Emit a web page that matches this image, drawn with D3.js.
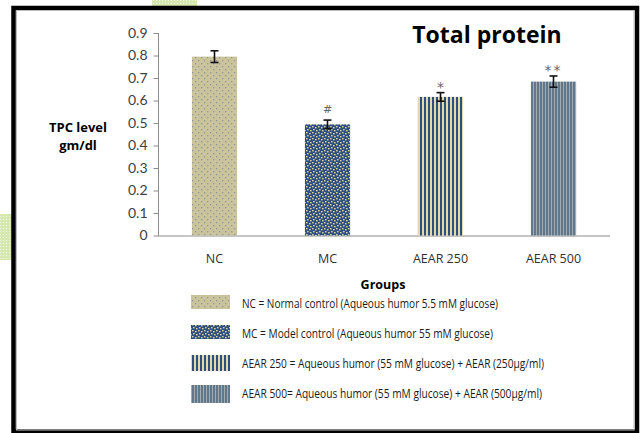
<!DOCTYPE html>
<html>
<head>
<meta charset="utf-8">
<script src="https://cdn.jsdelivr.net/npm/d3@7"></script>
<style>
  html, body { margin: 0; padding: 0; background: #fff; }
  svg { display: block; }
</style>
</head>
<body>
<svg id="chart" width="640" height="433"></svg>
<script>
// Total protein (TPC) by treatment group
const groups = ["NC", "MC", "AEAR 250", "AEAR 500"];
const means = [0.795, 0.494, 0.616, 0.684];
const errors = [0.026, 0.019, 0.019, 0.025];
const marks = ["", "#", "*", "**"];
const yTicks = [0, 0.1, 0.2, 0.3, 0.4, 0.5, 0.6, 0.7, 0.8, 0.9];
const legendLabels = [
  "NC = Normal control (Aqueous humor 5.5 mM glucose)",
  "MC = Model control (Aqueous humor 55 mM glucose)",
  "AEAR 250 = Aqueous humor (55 mM glucose) + AEAR (250µg/ml)",
  "AEAR 500= Aqueous humor (55 mM glucose) + AEAR (500µg/ml)"
];
const legendWidths = [256, 251, 302, 300];

const svg = d3.select("#chart");
const defs = svg.append("defs");

// Fill patterns for each group
function dotPattern(id, bg, dot, size, r, offset) {
  const p = defs.append("pattern").attr("id", id)
    .attr("patternUnits", "userSpaceOnUse").attr("width", size).attr("height", size);
  p.append("rect").attr("width", size).attr("height", size).attr("fill", bg);
  p.append("rect").attr("x", 0).attr("y", 0).attr("width", r).attr("height", r).attr("fill", dot);
  if (offset) p.append("rect").attr("x", size / 2).attr("y", size / 2).attr("width", r).attr("height", r).attr("fill", dot);
}
function stripePattern(id, a, aw, b, bw) {
  const w = aw + bw;
  const p = defs.append("pattern").attr("id", id)
    .attr("patternUnits", "userSpaceOnUse").attr("width", w).attr("height", 4);
  p.append("rect").attr("width", aw).attr("height", 4).attr("fill", a);
  p.append("rect").attr("x", aw).attr("width", bw).attr("height", 4).attr("fill", b);
}
dotPattern("pNC", "#cbc39c", "#8f9a9c", 6, 1.3, true);
// pebble-like fill for MC
(function () {
  const p = defs.append("pattern").attr("id", "pMC")
    .attr("patternUnits", "userSpaceOnUse").attr("width", 6).attr("height", 6);
  p.append("rect").attr("width", 6).attr("height", 6).attr("fill", "#2e4f7e");
  [[0, 0], [3, 1], [1, 3], [4, 4]].forEach(([x, y]) =>
    p.append("rect").attr("x", x).attr("y", y).attr("width", 1.6).attr("height", 1.4).attr("fill", "#d9d2a4"));
})();
stripePattern("p250", "#2d4e80", 2, "#e2daac", 2);
stripePattern("p500", "#61788c", 2, "#a0abb0", 1);
// faint green background texture
dotPattern("pGreen", "#d6e8b0", "#eef5dc", 3, 1, false);
const fills = ["url(#pNC)", "url(#pMC)", "url(#p250)", "url(#p500)"];

// page decoration behind the frame
svg.append("rect").attr("x", 152).attr("y", 0).attr("width", 45).attr("height", 7).attr("fill", "url(#pGreen)");
svg.append("rect").attr("x", 0).attr("y", 214).attr("width", 12).attr("height", 46).attr("fill", "url(#pGreen)");

// frame
svg.append("rect").attr("x", 13.5).attr("y", 8).attr("width", 623.5).attr("height", 423.5)
  .attr("fill", "#fff").attr("stroke", "#000").attr("stroke-width", 4.5);
svg.append("rect").attr("x", 16.5).attr("y", 10.5).attr("width", 617.5).attr("height", 419.5)
  .attr("fill", "none").attr("stroke", "#bbb").attr("stroke-width", 1);

// scales
const x = d3.scaleBand().domain(groups).range([158, 610]).paddingInner(0.6).paddingOuter(0.3);
const y = d3.scaleLinear().domain([0, 0.9]).range([235.5, 33]);

// y axis
const yAxis = svg.append("g").attr("transform", "translate(158.5,0)")
  .call(d3.axisLeft(y).tickValues(yTicks).tickSize(5).tickPadding(6)
    .tickFormat(d => d === 0 ? "0" : d3.format(".1f")(d)));
yAxis.select(".domain").attr("stroke", "#8c8c8c").attr("d", `M0,${y(0.9)}V${y(0)}`);
yAxis.selectAll(".tick line").attr("stroke", "#8c8c8c");
yAxis.selectAll(".tick text").attr("fill", "#404040")
  .style("font-family", "Lato, 'Open Sans', sans-serif").style("font-size", "14px");

// x axis (baseline only, labels below)
svg.append("line").attr("x1", 158).attr("x2", 610).attr("y1", y(0) + 0.5).attr("y2", y(0) + 0.5)
  .attr("stroke", "#8c8c8c");
svg.append("g").selectAll("text").data(groups).join("text")
  .attr("x", d => x(d) + x.bandwidth() / 2).attr("y", 263)
  .attr("text-anchor", "middle").attr("fill", "#303030")
  .style("font-family", "'Open Sans', sans-serif").style("font-size", "12.5px")
  .text(d => d);

// bars
const data = groups.map((g, i) => ({ g, v: means[i], e: errors[i], m: marks[i], f: fills[i] }));
svg.append("g").selectAll("rect").data(data).join("rect")
  .attr("x", d => x(d.g)).attr("width", x.bandwidth())
  .attr("y", d => y(d.v)).attr("height", d => y(0) - y(d.v))
  .attr("fill", d => d.f);

// error bars
const eb = svg.append("g").attr("stroke", "#111").attr("stroke-width", 1.6);
data.forEach(d => {
  const cx = x(d.g) + x.bandwidth() / 2;
  eb.append("line").attr("x1", cx).attr("x2", cx).attr("y1", y(d.v + d.e)).attr("y2", y(d.v - d.e));
  eb.append("line").attr("x1", cx - 4).attr("x2", cx + 4).attr("y1", y(d.v + d.e)).attr("y2", y(d.v + d.e));
  eb.append("line").attr("x1", cx - 4).attr("x2", cx + 4).attr("y1", y(d.v - d.e)).attr("y2", y(d.v - d.e));
});

// significance marks
svg.append("g").selectAll("text").data(data.filter(d => d.m)).join("text")
  .attr("x", d => x(d.g) + x.bandwidth() / 2)
  .attr("y", d => y(d.v + d.e) - (d.m === "#" ? 7 : 1))
  .attr("text-anchor", "middle").attr("fill", "#666")
  .style("font-family", "'DejaVu Sans', sans-serif")
  .style("font-size", d => d.m === "#" ? "11px" : "14px")
  .style("letter-spacing", d => d.m === "**" ? "2px" : "0px")
  .text(d => d.m);

// title
svg.append("text").attr("x", 487).attr("y", 43).attr("text-anchor", "middle")
  .attr("fill", "#000").style("font-family", "'Open Sans', sans-serif")
  .style("font-weight", "bold").style("font-size", "23px").text("Total protein");

// y axis title
const yt = svg.append("text").attr("text-anchor", "middle").attr("fill", "#000")
  .style("font-family", "'Open Sans', sans-serif").style("font-weight", "bold").style("font-size", "13px");
yt.append("tspan").attr("x", 78).attr("y", 132).text("TPC level");
yt.append("tspan").attr("x", 78).attr("y", 150).text("gm/dl");

// x axis title
svg.append("text").attr("x", 383).attr("y", 289).attr("text-anchor", "middle").attr("fill", "#000")
  .style("font-family", "'Open Sans', sans-serif").style("font-weight", "bold").style("font-size", "12.5px")
  .text("Groups");

// legend
const lg = svg.append("g");
const rowY = [295, 325, 355, 385];
const rowH = [14, 14, 16, 18];
groups.forEach((g, i) => {
  lg.append("rect").attr("x", 191).attr("y", rowY[i]).attr("width", 39).attr("height", rowH[i]).attr("fill", fills[i]);
  lg.append("text").attr("x", 242).attr("y", rowY[i] + 13)
    .attr("fill", "#1a1a1a")
    .attr("textLength", legendWidths[i]).attr("lengthAdjust", "spacingAndGlyphs")
    .style("font-family", "'Liberation Sans Narrow', 'Open Sans', sans-serif").style("font-size", "13px")
    .text(legendLabels[i]);
});
</script>
</body>
</html>
